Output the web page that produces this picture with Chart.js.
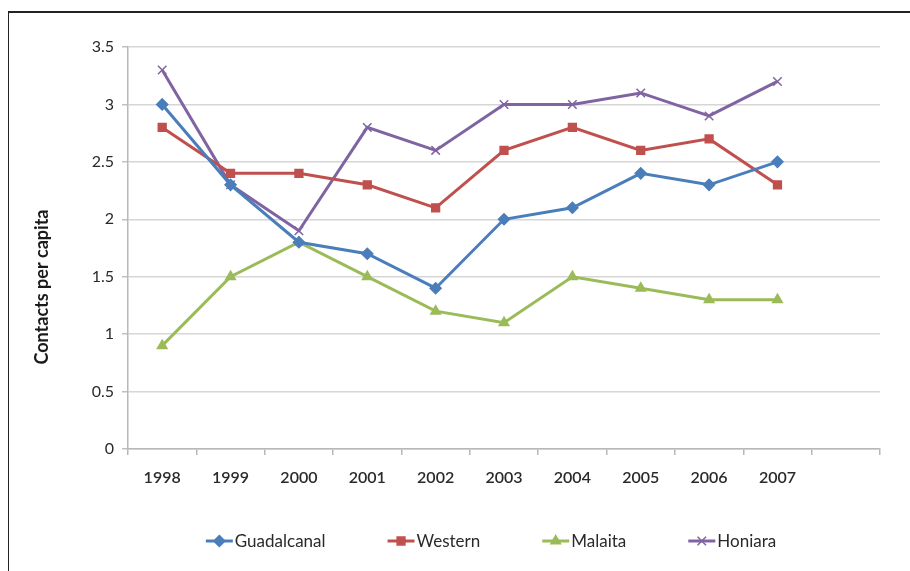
<!DOCTYPE html>
<html>
<head>
<meta charset="utf-8">
<script src="https://cdn.jsdelivr.net/npm/chart.js@4"></script>
<style>
  html, body { margin: 0; padding: 0; background: #ffffff; }
  #wrap { position: relative; width: 910px; height: 571px; overflow: hidden; background: #fff; }
  #frame { position: absolute; left: 8px; top: 11px; width: 1000px; height: 700px;
           border-left: 1.5px solid #222; border-top: 2px solid #222; }
  canvas { position: absolute; left: 0; top: 0; }
</style>
</head>
<body>
<div id="wrap">
  <div id="frame"></div>
  <canvas id="c" width="910" height="571"></canvas>
</div>
<script>
// Contacts per capita by province, 1998-2007
const years = ['1998', '1999', '2000', '2001', '2002', '2003', '2004', '2005', '2006', '2007'];
const guadalcanal = [3.0, 2.3, 1.8, 1.7, 1.4, 2.0, 2.1, 2.4, 2.3, 2.5];
const western     = [2.8, 2.4, 2.4, 2.3, 2.1, 2.6, 2.8, 2.6, 2.7, 2.3];
const malaita     = [0.9, 1.5, 1.8, 1.5, 1.2, 1.1, 1.5, 1.4, 1.3, 1.3];
const honiara     = [3.3, 2.3, 1.9, 2.8, 2.6, 3.0, 3.0, 3.1, 2.9, 3.2];
const yTicks = [0, 0.5, 1, 1.5, 2, 2.5, 3, 3.5];
const yTitle = 'Contacts per capita';

const FONT = 'Lato, "Open Sans", sans-serif';

function series(label, data, color, style, radius) {
  return {
    label, data,
    borderColor: color, backgroundColor: color,
    borderWidth: 3,
    pointStyle: style, pointRadius: radius, pointHoverRadius: radius,
    pointBorderColor: color, pointBackgroundColor: color, pointBorderWidth: 1.5,
    tension: 0
  };
}

// Line + marker legend along the bottom, plus the rotated axis title
const lineLegend = {
  id: 'lineLegend',
  afterDraw(chart) {
    const ctx = chart.ctx;
    ctx.save();
    ctx.font = '17px ' + FONT;
    ctx.textBaseline = 'middle';
    const items = chart.data.datasets;
    const lineW = 27, gapText = 2, gapItem = 62;
    let total = 0;
    const widths = items.map(d => ctx.measureText(d.label).width);
    widths.forEach((w, i) => { total += lineW + gapText + w + (i < items.length - 1 ? gapItem : 0); });
    let x = 491 - total / 2;
    const y = 541;
    items.forEach((d, i) => {
      ctx.strokeStyle = d.borderColor;
      ctx.lineWidth = 3;
      ctx.beginPath(); ctx.moveTo(x, y); ctx.lineTo(x + lineW, y); ctx.stroke();
      ctx.fillStyle = d.borderColor;
      ctx.lineWidth = 1.5;
      Chart.helpers.drawPoint(ctx, {
        pointStyle: d.pointStyle, radius: d.pointRadius, borderWidth: 1.5, rotation: 0
      }, x + lineW / 2, y);
      ctx.fillStyle = '#2a2a2a';
      ctx.fillText(d.label, x + lineW + gapText, y + 1);
      x += lineW + gapText + widths[i] + gapItem;
    });
    ctx.font = 'bold 18px ' + FONT;
    ctx.fillStyle = '#1a1a1a';
    ctx.textAlign = 'center';
    ctx.translate(42, 287);
    ctx.rotate(-Math.PI / 2);
    ctx.fillText(yTitle, 0, 0);
    ctx.restore();
  }
};

new Chart(document.getElementById('c'), {
  type: 'line',
  data: {
    labels: [...years, ''],
    datasets: [
      series('Guadalcanal', guadalcanal, '#4a7ebb', 'rectRot', 5.5),
      series('Western', western, '#c0504d', 'rect', 5.5),
      series('Malaita', malaita, '#9bbb59', 'triangle', 5.5),
      series('Honiara', honiara, '#8064a2', 'crossRot', 6)
    ]
  },
  options: {
    responsive: false,
    animation: false,
    devicePixelRatio: 1,
    layout: { padding: { left: 0, right: 30, top: 47, bottom: 0 } },
    plugins: { legend: { display: false }, tooltip: { enabled: false } },
    scales: {
      x: {
        type: 'category',
        offset: true,
        afterFit(scale) { scale.height = 122; },
        grid: { offset: true, drawOnChartArea: false, color: '#b8b8b8', lineWidth: 1.5, tickLength: 6 },
        border: { color: '#b8b8b8', width: 1.5 },
        ticks: { color: '#2a2a2a', font: { family: FONT, size: 16, weight: '600' }, padding: 13, maxRotation: 0, autoSkip: false }
      },
      y: {
        min: 0, max: 3.5,
        afterFit(scale) { scale.width = 128; },
        afterBuildTicks(scale) { scale.ticks = yTicks.map(v => ({ value: v })); },
        grid: { color: '#d6d6d6', lineWidth: 1.5, tickLength: 6, tickColor: '#c0c0c0' },
        border: { color: '#b8b8b8', width: 1.5 },
        ticks: {
          color: '#2a2a2a', font: { family: FONT, size: 16 }, padding: 8,
          callback: v => String(v)
        }
      }
    }
  },
  plugins: [lineLegend]
});
</script>
</body>
</html>
